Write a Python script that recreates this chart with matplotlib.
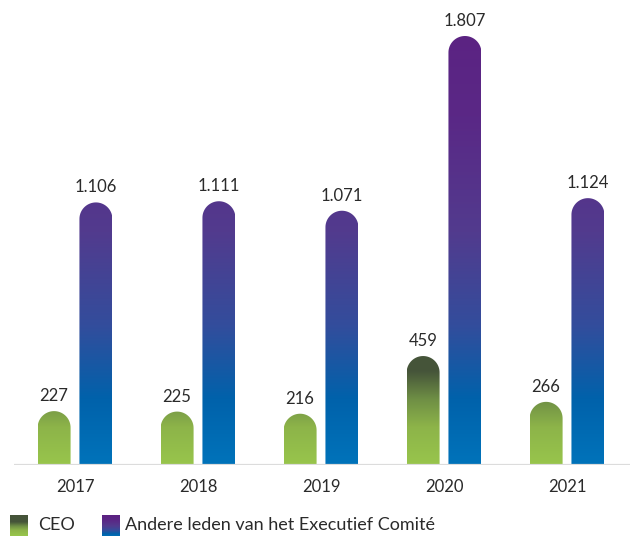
import numpy as np
import matplotlib
matplotlib.use("Agg")
import matplotlib.pyplot as plt
from matplotlib.colors import LinearSegmentedColormap
from matplotlib.path import Path
from matplotlib.patches import PathPatch
from matplotlib.transforms import IdentityTransform

plt.rcParams['font.family'] = ['Lato', 'DejaVu Sans']

years = ['2017', '2018', '2019', '2020', '2021']
ceo = [227, 225, 216, 459, 266]
others = [1106, 1111, 1071, 1807, 1124]
series_names = ['CEO', 'Andere leden van het Executief Comité']

# kleurverlopen (onder -> boven), vast over de hoogte van de grafiek
ceo_cmap = LinearSegmentedColormap.from_list(
    'ceo', [(0.0, '#98c54c'), (0.08, '#8db449'), (0.14, '#6f8f45'),
            (0.2, '#46553a'), (1.0, '#3e4a2f')])
oth_cmap = LinearSegmentedColormap.from_list(
    'oth', [(0.0, '#0073ba'), (0.14, '#0062ab'), (0.3, '#334d9c'),
            (0.5, '#523b8e'), (0.75, '#5a2886'), (1.0, '#5c2181')])

W, H = 630, 536
fig = plt.figure(figsize=(W / 100, H / 100), dpi=100)
ax = fig.add_axes([14 / W, (H - 465) / H, 1 - 14 / W, 465 / H])
ymax = 1807 * 465 / 429
ax.set_xlim(-0.496, 4.512)
ax.set_ylim(0, ymax)
ax.axis('off')

x = np.arange(len(years))
bw = 0.268
offs = [-0.17, 0.17]
grad = np.linspace(0, 1, 256).reshape(-1, 1)
txt_color = '#2a2a2a'


def rounded_bar(xc, h, cmap):
    x0, x1 = xc - bw / 2, xc + bw / 2
    (px0, py0), (px1, py1) = ax.transData.transform([(x0, 0), (x1, h)])
    r = (px1 - px0) / 2
    t = np.linspace(0, np.pi, 40)
    arc = np.column_stack([px0 + r + r * np.cos(t), py1 - r + r * np.sin(t)])
    verts = np.vstack([[px0, py0], [px1, py0], [px1, py1 - r], arc,
                       [px0, py1 - r], [px0, py0]])
    clip = PathPatch(Path(verts), transform=IdentityTransform(),
                     facecolor='none', edgecolor='none')
    ax.add_patch(clip)
    im = ax.imshow(grad, cmap=cmap, extent=(x0, x1, 0, ymax), origin='lower',
                   aspect='auto', interpolation='bilinear', zorder=2)
    im.set_clip_path(clip)


def fmt(v):
    return f'{v:,}'.replace(',', '.')


for i in x:
    for vals, off, cmap in [(ceo, offs[0], ceo_cmap), (others, offs[1], oth_cmap)]:
        rounded_bar(i + off, vals[i], cmap)
        ax.annotate(fmt(vals[i]), (i + off, vals[i]), xytext=(0, 5),
                    textcoords='offset points', ha='center', va='bottom',
                    fontsize=12, color=txt_color)
    ax.text(i, -22 / 465 * ymax, years[i], ha='center', va='center',
            fontsize=12, color=txt_color)

ax.axhline(0, color='#dcdcdc', lw=1.6, zorder=3)
ax.set_xlim(-0.496, 4.512)

# legende
for lx, cmap, tx, name in [(10, ceo_cmap, 38, series_names[0]),
                           (102, oth_cmap, 125, series_names[1])]:
    lax = fig.add_axes([lx / W, 0, 18 / W, 21 / H])
    if cmap is ceo_cmap:
        g = np.linspace(0.0, 0.3, 64).reshape(-1, 1)
    else:
        g = np.linspace(0.05, 1.0, 64).reshape(-1, 1)
    lax.imshow(g, cmap=cmap, vmin=0, vmax=1, origin='lower', aspect='auto')
    lax.axis('off')
    fig.text(tx / W, 1 - 525 / H, name, ha='left', va='center', fontsize=13,
             color=txt_color)

fig.savefig('out.png', dpi=100)
